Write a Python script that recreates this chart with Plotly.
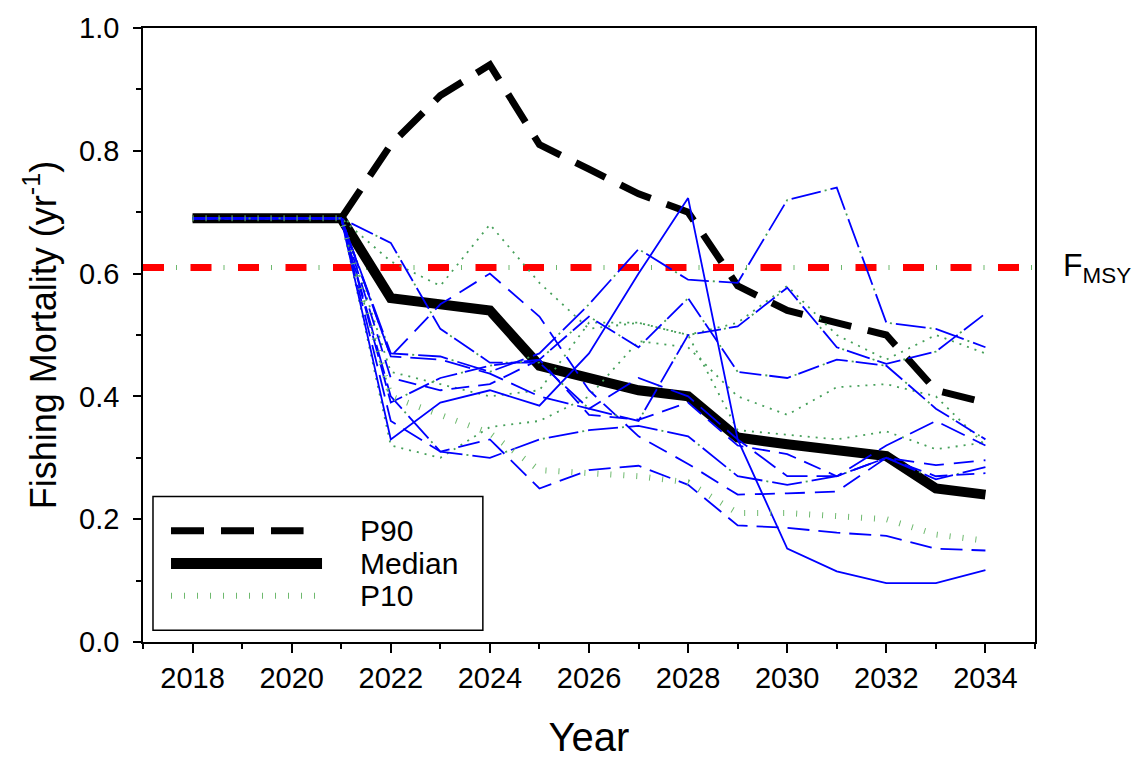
import plotly.graph_objects as go

# ---- data -------------------------------------------------------------
years = [2018, 2019, 2020, 2021, 2022, 2023, 2024, 2025, 2026,
         2027, 2028, 2029, 2030, 2031, 2032, 2033, 2034]

f_msy = 0.61
f_msy_span = [2017, 2035]

p90 = [0.69, 0.69, 0.69, 0.69, 0.81, 0.89, 0.94, 0.81, 0.77,
       0.73, 0.70, 0.58, 0.54, 0.52, 0.50, 0.41, 0.39]
median = [0.69, 0.69, 0.69, 0.69, 0.56, 0.55, 0.54, 0.45, 0.43,
          0.41, 0.40, 0.333, 0.322, 0.313, 0.303, 0.25, 0.24]
p10 = [0.69, 0.69, 0.69, 0.69, 0.40, 0.37, 0.34, 0.28, 0.275,
       0.27, 0.26, 0.21, 0.21, 0.205, 0.20, 0.175, 0.165]

# individual projection runs
sim_1 = [0.69, 0.69, 0.69, 0.69, 0.33, 0.39, 0.41, 0.385, 0.47,
         0.60, 0.723, 0.33, 0.152, 0.115, 0.096, 0.096, 0.117]
sim_2 = [0.69, 0.69, 0.69, 0.69, 0.47, 0.465, 0.44, 0.47, 0.55,
         0.64, 0.59, 0.585, 0.72, 0.74, 0.52, 0.51, 0.48]
sim_3 = [0.69, 0.69, 0.69, 0.69, 0.465, 0.55, 0.60, 0.53, 0.41,
         0.335, 0.29, 0.24, 0.242, 0.245, 0.30, 0.288, 0.296]
sim_4 = [0.69, 0.69, 0.69, 0.69, 0.65, 0.51, 0.455, 0.455, 0.38,
         0.36, 0.50, 0.514, 0.577, 0.48, 0.453, 0.473, 0.535]
sim_5 = [0.69, 0.69, 0.69, 0.69, 0.36, 0.31, 0.33, 0.25, 0.28,
         0.287, 0.256, 0.19, 0.186, 0.178, 0.173, 0.152, 0.149]
sim_6 = [0.69, 0.69, 0.69, 0.69, 0.40, 0.31, 0.30, 0.33, 0.345,
         0.352, 0.335, 0.27, 0.256, 0.27, 0.30, 0.265, 0.285]
sim_7 = [0.69, 0.69, 0.69, 0.69, 0.43, 0.41, 0.42, 0.46, 0.37,
         0.362, 0.39, 0.32, 0.306, 0.27, 0.30, 0.27, 0.275]
sim_8 = [0.69, 0.69, 0.69, 0.69, 0.465, 0.46, 0.437, 0.40, 0.38,
         0.43, 0.40, 0.33, 0.27, 0.27, 0.32, 0.36, 0.32]
sim_9 = [0.69, 0.69, 0.69, 0.69, 0.39, 0.43, 0.45, 0.46, 0.53,
         0.48, 0.56, 0.44, 0.43, 0.46, 0.45, 0.38, 0.33]

dot_1 = [0.69, 0.69, 0.69, 0.69, 0.62, 0.58, 0.68, 0.585, 0.51,
         0.52, 0.50, 0.52, 0.58, 0.50, 0.46, 0.50, 0.47]
dot_2 = [0.69, 0.69, 0.69, 0.69, 0.32, 0.30, 0.35, 0.36, 0.40,
         0.49, 0.48, 0.40, 0.37, 0.415, 0.42, 0.40, 0.32]
dot_3 = [0.69, 0.69, 0.69, 0.69, 0.44, 0.42, 0.40, 0.41, 0.52,
         0.52, 0.50, 0.345, 0.337, 0.33, 0.343, 0.314, 0.325]

legend_labels = ["P90", "Median", "P10"]

# ---- styles -----------------------------------------------------------
FONT = "Liberation Sans, Arial, Helvetica, sans-serif"
BLUE = "#0000ff"
GREEN = "rgb(70,160,90)"
TICK_GREEN = "rgb(110,185,110)"

sim_runs = [sim_1, sim_2, sim_3, sim_4, sim_5, sim_6, sim_7, sim_8, sim_9]
# blue dash pattern, and green dot pattern sitting in the gaps (or None)
sim_styles = [
    ("solid", None),
    ("30px,10px", "0px,34px,2px,4px"),
    ("20px,10px", None),
    ("24px,8px", "0px,27px,2px,3px"),
    ("22px,9px", None),
    ("30px,10px", "0px,34px,2px,4px"),
    ("18px,9px", None),
    ("26px,9px", None),
    ("22px,8px", "0px,26px,2px,2px"),
]
dot_runs = [dot_1, dot_2, dot_3]

fig = go.Figure()

def line(x, y, color, width, dash):
    fig.add_trace(go.Scatter(x=x, y=y, mode="lines", showlegend=False,
                             hoverinfo="skip",
                             line=dict(color=color, width=width, dash=dash)))

# F_MSY reference: red dashes with small green ticks in the gaps
fmsy_y = [f_msy, f_msy]
line(f_msy_span, fmsy_y, "red", 7, "21px,26.5px")
line(f_msy_span, fmsy_y, TICK_GREEN, 5, "0px,33px,1px,13.5px")

# percentile envelopes
line(years, p90, "black", 7, "33px,17px")
line(years, median, "black", 10, "solid")

# individual runs
for run in dot_runs:
    line(years, run, GREEN, 1.8, "2px,6px")
for run, (dash, dots) in zip(sim_runs, sim_styles):
    line(years, run, BLUE, 1.8, dash)
    if dots:
        line(years, run, GREEN, 1.8, dots)

line(years, p10, TICK_GREEN, 6, "1px,12px")

# ---- legend box (drawn in paper coordinates) --------------------------
shapes = [dict(type="rect", xref="paper", yref="paper",
               x0=0.0112, x1=0.381, y0=0.0192, y1=0.237,
               line=dict(color="black", width=1.5), fillcolor="white",
               layer="above")]
legend_rows = [
    (0.181, 0.180, dict(color="black", width=7, dash="33px,17px")),
    (0.128, 0.2007, dict(color="black", width=11, dash="solid")),
    (0.0753, 0.193, dict(color=TICK_GREEN, width=6, dash="1px,12px")),
]
annotations = []
for (ypos, xend, style), label in zip(legend_rows, legend_labels):
    shapes.append(dict(type="line", xref="paper", yref="paper",
                       x0=0.0314, x1=xend, y0=ypos, y1=ypos,
                       line=style, layer="above"))
    annotations.append(dict(xref="paper", yref="paper", x=0.241, y=ypos,
                            text=label, showarrow=False, xanchor="left",
                            yanchor="middle",
                            font=dict(family=FONT, size=30, color="black")))

annotations.append(dict(xref="paper", yref="y", x=1.029, y=f_msy,
                        text="F<sub>MSY</sub>", showarrow=False,
                        xanchor="left", yanchor="middle",
                        font=dict(family=FONT, size=32, color="black")))

axis_common = dict(showline=True, linecolor="black", linewidth=1.5,
                   mirror=True, ticks="outside", tickcolor="black",
                   tickwidth=1.5, showgrid=False, zeroline=False,
                   tickfont=dict(family=FONT, size=29, color="black"))

fig.update_layout(
    width=1136, height=764,
    margin=dict(l=143, r=101, t=19, b=121),
    paper_bgcolor="white", plot_bgcolor="white",
    shapes=shapes, annotations=annotations,
    xaxis=dict(range=[2017, 2035], tick0=2018, dtick=2, ticklen=9,
               minor=dict(dtick=1, tick0=2017, ticklen=5, ticks="outside",
                          tickcolor="black", tickwidth=1.5),
               title=dict(text="Year", standoff=30,
                          font=dict(family=FONT, size=40, color="black")),
               **axis_common),
    yaxis=dict(range=[0, 1], tick0=0, dtick=0.2, ticklen=8,
               tickformat=".1f", ticklabelstandoff=8,
               minor=dict(dtick=0.1, ticklen=5, ticks="outside",
                          tickcolor="black", tickwidth=1.5),
               title=dict(text="Fishing Mortality (yr<sup>-1</sup>)",
                          standoff=12,
                          font=dict(family=FONT, size=36, color="black")),
               **axis_common),
)

fig.write_html("out.html", config={"displayModeBar": False})
